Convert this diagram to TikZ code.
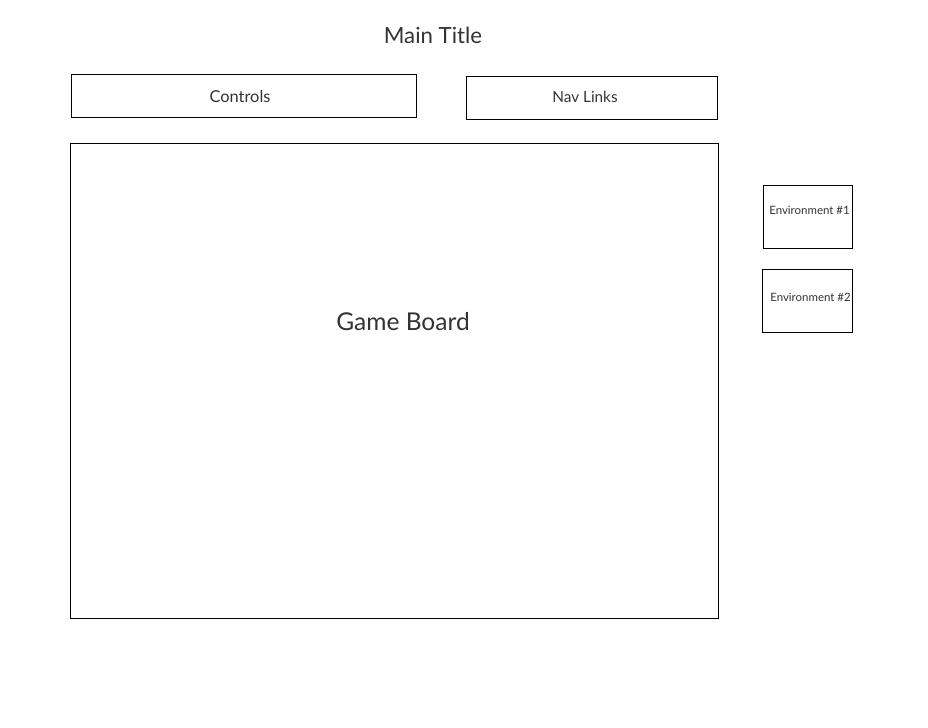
\documentclass[tikz,border=0pt]{standalone}
\usepackage{fontspec}
\setmainfont{Lato}
\usepackage{tikz}
\usetikzlibrary{positioning}

\begin{document}
\begin{tikzpicture}[x=0.75pt, y=-0.75pt]

    % Farben und Stile
    \definecolor{textgray}{HTML}{333333}
    \tikzset{
        panel/.style={draw=black, line width=0.75pt},
        label/.style={text=textgray, inner sep=0pt, anchor=center}
    }

    \useasboundingbox (0, 0) rectangle (928, 728);

    % Eckpunkte der Felder
    \coordinate (ctrlA) at (71, 74);    \coordinate (ctrlB) at (416, 117);
    \coordinate (navA) at (466, 76);    \coordinate (navB) at (717, 119);
    \coordinate (boardA) at (70, 143);  \coordinate (boardB) at (718, 618);
    \coordinate (envOneA) at (763, 185); \coordinate (envOneB) at (852, 248);
    \coordinate (envTwoA) at (762, 269); \coordinate (envTwoB) at (852, 332);

    % Felder zeichnen
    \draw[panel] (ctrlA) rectangle (ctrlB);
    \draw[panel] (navA) rectangle (navB);
    \draw[panel] (boardA) rectangle (boardB);
    \draw[panel] (envOneA) rectangle (envOneB);
    \draw[panel] (envTwoA) rectangle (envTwoB);

    % Beschriftungen
    \node[label, font=\fontsize{16.7}{20}\selectfont] (title) at (433, 35) {Main Title};
    \node[label, font=\fontsize{12.3}{15}\selectfont] (controls) at (240, 97) {Controls};
    \node[label, font=\fontsize{11.5}{14}\selectfont] (navlinks) at (585, 97) {Nav Links};
    \node[label, font=\fontsize{18.4}{22}\selectfont] (board) at (403, 322) {Game Board};
    \node[label, font=\fontsize{8.6}{10}\selectfont] (envone) at (809.5, 210) {Environment \#1};
    \node[label, font=\fontsize{8.6}{10}\selectfont] (envtwo) at (810.5, 297) {Environment \#2};

\end{tikzpicture}
\end{document}
